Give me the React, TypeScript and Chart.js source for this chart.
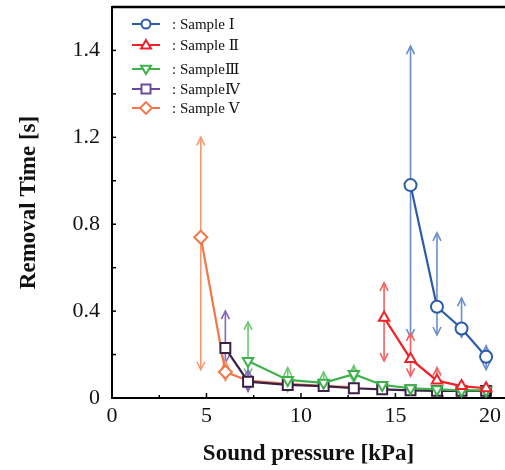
import React, { useEffect, useRef } from "react";
import { Chart, registerables } from "chart.js";

Chart.register(...registerables);

// ---------- data ----------
const seriesNames = [": Sample Ⅰ", ": Sample Ⅱ", ": SampleⅢ", ": SampleⅣ", ": Sample Ⅴ"];

const x1 = [15.8, 17.2, 18.5, 19.8];
const y1 = [0.98, 0.42, 0.32, 0.19];
const hi1 = [1.62, 0.76, 0.46, 0.24];
const lo1 = [0.28, 0.29, 0.28, 0.13];

const x2 = [14.4, 15.8, 17.2, 18.5, 19.8];
const y2 = [0.37, 0.18, 0.08, 0.055, 0.045];
const hi2 = [0.53, 0.3, 0.14, null, null];
const lo2 = [0.17, 0.1, null, null, null];

const x3 = [7.2, 9.3, 11.2, 12.8, 14.3, 15.8, 17.2, 18.5, 19.8];
const y3 = [0.17, 0.083, 0.07, 0.11, 0.06, 0.045, 0.04, 0.035, 0.035];
const hi3 = [0.35, 0.14, 0.12, 0.15, null, null, null, null, null];
const lo3 = [0.1, 0.03, 0.035, 0.07, null, null, null, null, null];

const x4 = [6.0, 7.2, 9.3, 11.2, 12.8, 14.3, 15.8, 17.2, 18.5, 19.8];
const y4 = [0.23, 0.075, 0.06, 0.055, 0.045, 0.04, 0.035, 0.033, 0.033, 0.033];
const hi4 = [0.4, 0.13, null, null, null, null, null, null, null, null];
const lo4 = [0.16, 0.03, null, null, null, null, null, null, null, null];

const x5 = [4.7, 6.0, 7.2, 9.3, 11.2, 12.8];
const y5 = [0.74, 0.12, 0.08, 0.065, 0.055, 0.05];
const hi5 = [1.2, 0.17, null, null, null, null];
const lo5 = [0.13, 0.08, null, null, null, null];

const xTickValues = [0, 5, 10, 15, 20];
const xTickLabels = ["0", "5", "10", "15", "20"];
const yTickValues = [0, 0.4, 0.8, 1.2, 1.6];
const yTickLabels = ["0", "0.4", "0.8", "1.2", "1.4"];

const xTitle = "Sound pressure [kPa]";
const yTitle = "Removal Time [s]";

// ---------- styles ----------
const lineColors = ["#2C5BA9", "#EE2228", "#3DB24A", "#3B2244", "#F2774A"];
const legendColors = ["#2C5BA9", "#EE2228", "#3DB24A", "#6A4A9E", "#F2774A"];
const arrowColors = ["#6A8ECC", "#F26262", "#6CC873", "#8466BC", "#F79A72"];
const pointStyles = ["circle", "triangle", "triangle", "rect", "rectRot"];
const pointRotations = [0, 0, 180, 0, 0];
const FONT = "'Liberation Serif', 'Times New Roman', 'DejaVu Serif', serif";

const xs = [x1, x2, x3, x4, x5];
const ys = [y1, y2, y3, y4, y5];
const his = [hi1, hi2, hi3, hi4, hi5];
const los = [lo1, lo2, lo3, lo4, lo5];

function drawArrow(ctx: CanvasRenderingContext2D, x: number, y0: number, y1v: number) {
  const dir = y1v < y0 ? 1 : -1; // 1 => pointing up
  ctx.beginPath();
  ctx.moveTo(x, y0);
  ctx.lineTo(x, y1v);
  ctx.stroke();
  ctx.beginPath();
  ctx.moveTo(x - 4, y1v + dir * 8);
  ctx.lineTo(x, y1v);
  ctx.lineTo(x + 4, y1v + dir * 8);
  ctx.stroke();
}

const arrowPlugin = {
  id: "arrowBars",
  beforeDatasetsDraw(chart: any) {
    const ctx = chart.ctx as CanvasRenderingContext2D;
    const xs_ = chart.scales.x;
    const ys_ = chart.scales.y;
    ctx.save();
    ctx.lineWidth = 1.6;
    for (let d = 0; d < xs.length; d++) {
      ctx.strokeStyle = arrowColors[d];
      for (let i = 0; i < xs[d].length; i++) {
        const px = xs_.getPixelForValue(xs[d][i]);
        const py = ys_.getPixelForValue(ys[d][i]);
        const h = his[d][i];
        const l = los[d][i];
        if (h != null) drawArrow(ctx, px, py, ys_.getPixelForValue(h));
        if (l != null) drawArrow(ctx, px, py, ys_.getPixelForValue(l));
      }
    }
    ctx.restore();
  },
};

function drawMarker(ctx: CanvasRenderingContext2D, style: string, rot: number, x: number, y: number, r: number) {
  ctx.beginPath();
  if (style === "circle") {
    ctx.arc(x, y, r, 0, Math.PI * 2);
  } else if (style === "triangle") {
    const s = rot === 180 ? -1 : 1;
    ctx.moveTo(x, y - s * r * 1.1);
    ctx.lineTo(x - r * 1.1, y + s * r * 0.75);
    ctx.lineTo(x + r * 1.1, y + s * r * 0.75);
    ctx.closePath();
  } else if (style === "rect") {
    ctx.rect(x - r, y - r, 2 * r, 2 * r);
  } else if (style === "rectRot") {
    ctx.moveTo(x, y - r * 1.3);
    ctx.lineTo(x + r * 1.3, y);
    ctx.lineTo(x, y + r * 1.3);
    ctx.lineTo(x - r * 1.3, y);
    ctx.closePath();
  }
  ctx.fillStyle = "#fff";
  ctx.fill();
  ctx.stroke();
}

const frameLegendPlugin = {
  id: "frameLegend",
  afterDraw(chart: any) {
    const ctx = chart.ctx as CanvasRenderingContext2D;
    const { left, right, top, bottom } = chart.chartArea;
    const xsc = chart.scales.x;
    const ysc = chart.scales.y;
    ctx.save();
    // top frame line
    ctx.strokeStyle = "#000";
    ctx.lineWidth = 2.5;
    ctx.beginPath();
    ctx.moveTo(left, top);
    ctx.lineTo(right, top);
    ctx.stroke();
    // inward tick marks
    ctx.lineWidth = 1.5;
    xsc.ticks.forEach((t: any) => {
      const px = xsc.getPixelForValue(t.value);
      if (px > right - 2) return;
      const major = Math.abs(t.value / 5 - Math.round(t.value / 5)) < 1e-6;
      ctx.beginPath();
      ctx.moveTo(px, bottom);
      ctx.lineTo(px, bottom - (major ? 5 : 3));
      ctx.stroke();
    });
    ysc.ticks.forEach((t: any) => {
      const py = ysc.getPixelForValue(t.value);
      if (py < top + 2) return;
      ctx.beginPath();
      ctx.moveTo(left, py);
      ctx.lineTo(left + 4, py);
      ctx.stroke();
    });
    // legend
    const rows = [17, 38, 62, 82, 101];
    ctx.font = `15px ${FONT}`;
    ctx.textBaseline = "middle";
    ctx.textAlign = "left";
    for (let d = 0; d < seriesNames.length; d++) {
      const y = top + rows[d];
      ctx.strokeStyle = legendColors[d];
      ctx.lineWidth = 2;
      ctx.beginPath();
      ctx.moveTo(left + 20, y);
      ctx.lineTo(left + 48, y);
      ctx.stroke();
      drawMarker(ctx, pointStyles[d], pointRotations[d], left + 34, y, 4.5);
      ctx.fillStyle = "#111";
      ctx.fillText(seriesNames[d], left + 60, y + 1);
    }
    ctx.restore();
  },
};

export default function App() {
  const ref = useRef<HTMLCanvasElement>(null);
  useEffect(() => {
    if (!ref.current) return;
    const datasets = xs.map((xx, d) => ({
      label: seriesNames[d],
      data: xx.map((x, i) => ({ x, y: ys[d][i] })),
      borderColor: lineColors[d],
      backgroundColor: "#fff",
      pointBackgroundColor: "#fff",
      pointBorderColor: lineColors[d],
      pointBorderWidth: 2,
      pointRadius: d === 4 ? xx.map((_, i) => (i < 2 ? 6.5 : 0)) : d === 3 ? 7 : 6,
      pointStyle: pointStyles[d],
      pointRotation: pointRotations[d],
      borderWidth: 2.2,
      tension: 0,
      fill: false,
      clip: false,
    }));
    const chart = new Chart(ref.current, {
      type: "line",
      data: { datasets: datasets as any },
      options: {
        animation: false,
        responsive: false,
        devicePixelRatio: 1,
        layout: { autoPadding: false, padding: { top: 7, right: 0, left: 0, bottom: 0 } },
        plugins: { legend: { display: false }, tooltip: { enabled: false } },
        scales: {
          x: {
            type: "linear",
            min: 0,
            max: 20.8,
            afterFit: (s: any) => {
              s.height = 72;
              s.paddingLeft = 0;
              s.paddingRight = 0;
            },
            grid: { display: false, drawTicks: false },
            border: { display: true, color: "#000", width: 2 },
            ticks: {
              stepSize: 2.5,
              includeBounds: false,
              autoSkip: false,
              maxRotation: 0,
              padding: 5,
              color: "#111",
              font: { family: FONT, size: 22 },
              callback: (v: any) => {
                const i = xTickValues.findIndex((t) => Math.abs(t - Number(v)) < 1e-6);
                return i >= 0 ? xTickLabels[i] : "";
              },
            },
            title: {
              display: true,
              text: xTitle,
              color: "#111",
              font: { family: FONT, size: 23, weight: "bold" },
              padding: { top: 0, bottom: 2 },
            },
          },
          y: {
            type: "linear",
            min: 0,
            max: 1.8,
            afterFit: (s: any) => {
              s.width = 112;
              s.paddingTop = 0;
              s.paddingBottom = 0;
            },
            grid: { display: false, drawTicks: false },
            border: { display: true, color: "#000", width: 2 },
            ticks: {
              stepSize: 0.2,
              autoSkip: false,
              padding: 12,
              color: "#111",
              font: { family: FONT, size: 22 },
              callback: (v: any) => {
                const i = yTickValues.findIndex((t) => Math.abs(t - Number(v)) < 1e-6);
                return i >= 0 ? yTickLabels[i] : "";
              },
            },
            title: {
              display: true,
              text: yTitle,
              color: "#111",
              font: { family: FONT, size: 23, weight: "bold" },
              padding: { top: 15, bottom: 0 },
            },
          },
        },
      },
      plugins: [arrowPlugin, frameLegendPlugin],
    });
    return () => chart.destroy();
  }, []);
  return (
    <div style={{ position: "absolute", left: 0, top: 0, width: 505, height: 470, background: "#fff" }}>
      <canvas ref={ref} width={505} height={470} />
    </div>
  );
}
